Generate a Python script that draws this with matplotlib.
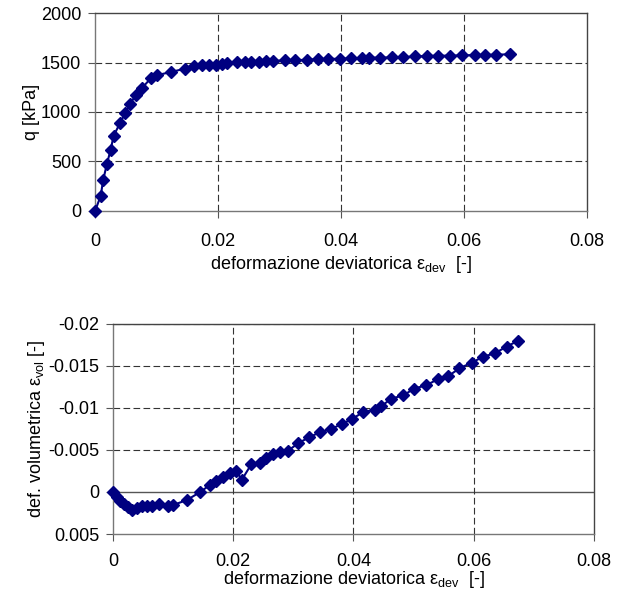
import matplotlib
matplotlib.use("Agg")
import matplotlib.pyplot as plt
from matplotlib.ticker import FuncFormatter

plt.rcParams["font.family"] = ["Liberation Sans", "DejaVu Sans"]
plt.rcParams["mathtext.fontset"] = "custom"
plt.rcParams["mathtext.rm"] = "Liberation Sans"
plt.rcParams["mathtext.it"] = "Liberation Sans"

# top chart: deviatoric strain vs q
eps_dev_q = [0, 0.0009, 0.0013, 0.0019, 0.0025, 0.003, 0.004, 0.0049, 0.0057, 0.0066,
             0.0076, 0.0091, 0.010, 0.0123, 0.0146, 0.0161, 0.0173, 0.0185, 0.0196, 0.0207,
             0.0215, 0.023, 0.0243, 0.0254, 0.0266, 0.0277, 0.0289, 0.0308, 0.0325, 0.0345,
             0.0362, 0.0378, 0.0398, 0.0416, 0.0434, 0.0445, 0.0464, 0.0483, 0.0501, 0.052,
             0.054, 0.0558, 0.0577, 0.0596, 0.0617, 0.0634, 0.0652, 0.0674]
q_kpa = [0, 151, 310, 472, 613, 757, 883, 990, 1085, 1169,
         1242, 1343, 1371, 1404, 1438, 1469, 1475, 1478, 1480, 1489,
         1495, 1502, 1502, 1505, 1507, 1512, 1515, 1522, 1525, 1527,
         1535, 1537, 1538, 1542, 1547, 1549, 1550, 1552, 1555, 1562,
         1567, 1569, 1570, 1572, 1576, 1578, 1580, 1583]

# bottom chart: deviatoric strain vs volumetric strain
eps_dev_v = [0, 0.00066, 0.0012, 0.00176, 0.0025, 0.0031, 0.004, 0.0048, 0.0056, 0.0065,
             0.0076, 0.0092, 0.010, 0.0123, 0.0145, 0.0161, 0.0172, 0.0183, 0.0194, 0.0205,
             0.0214, 0.023, 0.0244, 0.0255, 0.0266, 0.0277, 0.0291, 0.0308, 0.0326, 0.0344,
             0.0363, 0.0381, 0.0398, 0.0416, 0.0435, 0.0446, 0.0463, 0.0483, 0.0501, 0.0521,
             0.054, 0.0558, 0.0576, 0.0597, 0.0616, 0.0635, 0.0655, 0.0674]
eps_vol = [0, 0.00063, 0.00103, 0.00143, 0.00183, 0.0021, 0.00195, 0.0017, 0.00163, 0.0017,
           0.00143, 0.00163, 0.00155, 0.00095, 0.0, -0.00083, -0.00135, -0.00175, -0.00226, -0.00254,
           -0.00143, -0.0033, -0.00345, -0.004, -0.0045, -0.0048, -0.0049, -0.0058, -0.0065, -0.0071,
           -0.0075, -0.0081, -0.0087, -0.0095, -0.0098, -0.0102, -0.0111, -0.0115, -0.0123, -0.0127,
           -0.0134, -0.0138, -0.0147, -0.0154, -0.0161, -0.0165, -0.0173, -0.0180]

x_ticks = [0, 0.02, 0.04, 0.06, 0.08]
q_ticks = [0, 500, 1000, 1500, 2000]
vol_ticks = [-0.02, -0.015, -0.01, -0.005, 0, 0.005]

navy = "#000080"
grid_kw = dict(color="#333333", linestyle=(0, (6, 3)), linewidth=0.8)
xlabel = r"deformazione deviatorica $\mathregular{\epsilon_{dev}}$  [-]"
fs = 13

fig = plt.figure(figsize=(6.18, 5.97), dpi=100)
ax1 = fig.add_axes([0.154, 0.647, 0.796, 0.331])
ax2 = fig.add_axes([0.183, 0.1055, 0.778, 0.352])

fmt = FuncFormatter(lambda v, p: "0" if abs(v) < 1e-12 else f"{v:g}")

# top
ax1.plot(eps_dev_q, q_kpa, color=navy, marker="D", markersize=6, linewidth=1.5,
         clip_on=False, zorder=3)
ax1.set_xlim(0, 0.08)
ax1.set_ylim(0, 2000)
ax1.set_xticks(x_ticks)
ax1.set_yticks(q_ticks)
ax1.xaxis.set_major_formatter(fmt)
for v in q_ticks[1:-1]:
    ax1.axhline(v, **grid_kw)
for v in x_ticks[1:-1]:
    ax1.axvline(v, **grid_kw)
ax1.set_xlabel(xlabel, fontsize=fs, labelpad=3)
ax1.set_ylabel("q [kPa]", fontsize=fs, labelpad=1)
ax1.tick_params(axis="x", length=5, pad=11, labelsize=fs, color="#555555")
ax1.tick_params(axis="y", length=5, pad=5, labelsize=fs, color="#555555")

# bottom
ax2.plot(eps_dev_v, eps_vol, color=navy, marker="D", markersize=6, linewidth=1.5,
         clip_on=False, zorder=3)
ax2.set_xlim(0, 0.08)
ax2.set_ylim(0.005, -0.02)
ax2.set_xticks(x_ticks)
ax2.set_yticks(vol_ticks)
ax2.xaxis.set_major_formatter(fmt)
ax2.yaxis.set_major_formatter(fmt)
for v in vol_ticks[:4]:
    ax2.axhline(v, **grid_kw)
ax2.axhline(0, color="#555555", linewidth=1.0, zorder=1)
for v in x_ticks[1:-1]:
    ax2.axvline(v, **grid_kw)
ax2.set_xlabel(xlabel, fontsize=fs, labelpad=-1)
ax2.set_ylabel(r"def. volumetrica $\mathregular{\epsilon_{vol}}$ [-]", fontsize=fs, labelpad=1)
ax2.tick_params(axis="x", length=5, pad=9, labelsize=fs, color="#555555")
ax2.tick_params(axis="y", length=5, pad=5, labelsize=fs, color="#555555")

for ax in (ax1, ax2):
    for side in ("left", "bottom"):
        ax.spines[side].set_color("#777777")
    for side in ("top", "right"):
        ax.spines[side].set_color("#444444")
    for s in ax.spines.values():
        s.set_linewidth(1.0)

fig.savefig("out.png", dpi=100)
